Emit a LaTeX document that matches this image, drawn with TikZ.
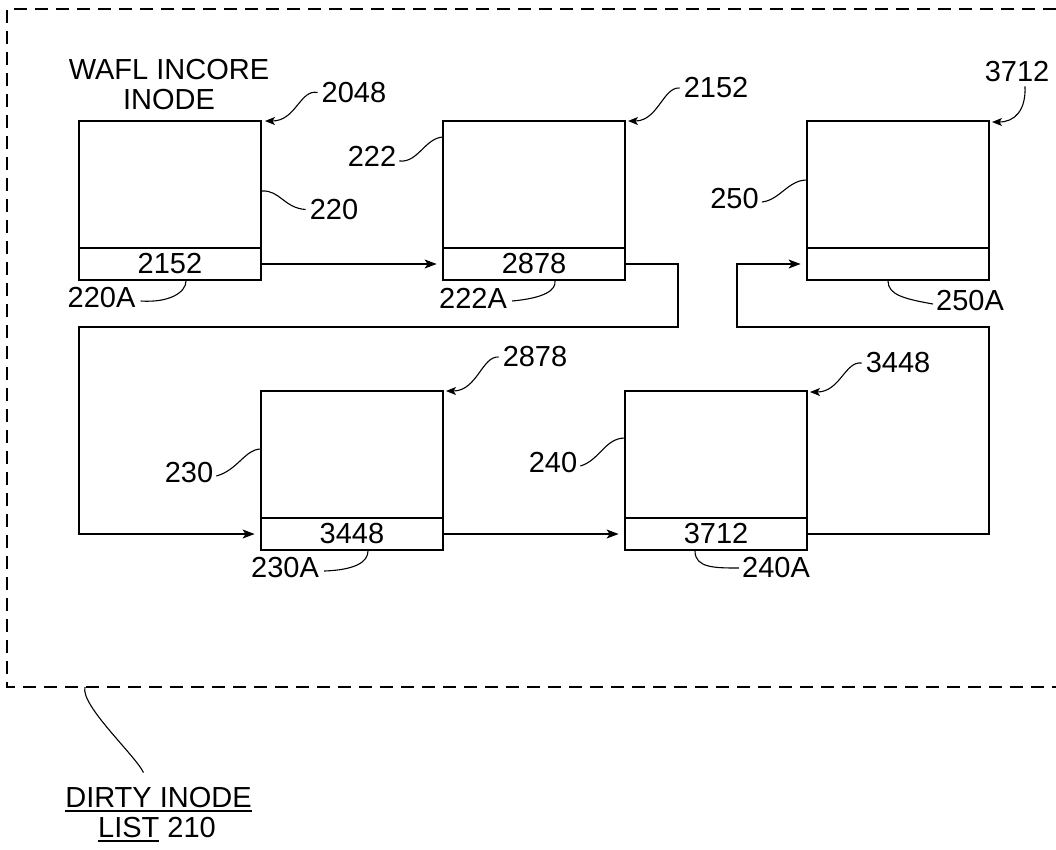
\documentclass[tikz,border=0pt]{standalone}
\usepackage{fontspec}
\setmainfont{Liberation Sans}
\usetikzlibrary{arrows.meta}
\newsavebox\ulbox
\newcommand\myul[1]{\sbox\ulbox{#1}\rlap{\rule[-5pt]{\wd\ulbox}{2pt}}\usebox\ulbox}
\begin{document}
\begin{tikzpicture}[x=1pt,y=-1pt,
  lbl/.style={font=\fontsize{29}{30}\selectfont, inner sep=0pt},
  upper/.style={draw, line width=2.8pt, minimum width=182pt, minimum height=127pt, inner sep=0pt},
  field/.style={draw, line width=2.8pt, minimum width=182pt, minimum height=32pt, inner sep=0pt, font=\fontsize{29}{30}\selectfont},
  conn/.style={line width=1.1pt, -{Stealth[length=12pt,width=9pt,inset=3pt]}, shorten >=5pt},
  ptr/.style={line width=1.1pt, -{Stealth[length=10pt,width=8pt,inset=2.5pt]}},
  lead/.style={line width=1.1pt},
  border/.style={line width=1.3pt, dash pattern=on 13pt off 8pt}]
\useasboundingbox (0,0) rectangle (1056,849);

% dashed list border
\coordinate (bt) at (1056,9);
\coordinate (btl) at (7,9);
\coordinate (bbl) at (7,687);
\coordinate (bb) at (1056,687);
\draw[border] (bt) -- (btl) -- (bbl) -- (bb);

% boxes
\node[upper] (u220) at (170,184.5) {};
\node[field] (f220) at (170,264) {2152};
\node[upper] (u222) at (534,184.5) {};
\node[field] (f222) at (534,264) {2878};
\node[upper] (u250) at (898,184.5) {};
\node[field] (f250) at (898,264) {};
\node[upper] (u230) at (352,454.5) {};
\node[field] (f230) at (352,534) {3448};
\node[upper] (u240) at (716,454.5) {};
\node[field] (f240) at (716,534) {3712};

% texts
\node[lbl, align=center] (wafl) at (169,85) {WAFL INCORE\\INODE};
\node[lbl] (l2048) at (354,92.5) {2048};
\node[lbl] (l220) at (334,209.5) {220};
\node[lbl] (l220A) at (101.5,298) {220A};
\node[lbl] (l222) at (372,156) {222};
\node[lbl] (l222A) at (473,298) {222A};
\node[lbl] (l2152) at (716,88) {2152};
\node[lbl] (l250) at (734.5,199) {250};
\node[lbl] (l250A) at (970,301) {250A};
\node[lbl] (l3712) at (1017,72) {3712};
\node[lbl] (l2878) at (535,357) {2878};
\node[lbl] (l230) at (189,473) {230};
\node[lbl] (l230A) at (285,568) {230A};
\node[lbl] (l240) at (553,463) {240};
\node[lbl] (l240A) at (776,568) {240A};
\node[lbl] (l3448) at (898,363) {3448};
\node[lbl, anchor=base] (dirty1) at (158.5,807) {\myul{DIRTY INODE}};
\node[lbl, anchor=base] (dirty2) at (157,837) {\myul{LIST} 210};

% list connectors
\coordinate (k1) at (678,327);
\coordinate (k2) at (79,327);
\coordinate (k3) at (989,327);
\coordinate (k4) at (737,327);
\draw[conn] (f220.east) -- (f222.west);
\draw[conn] (f222.east) -| (k1) -- (k2) |- (f230.west);
\draw[conn] (f230.east) -- (f240.west);
\draw[conn] (f240.east) -| (k3) -- (k4) |- (f250.west);

% address pointers
\coordinate (t2048) at (265,121);
\coordinate (t2152) at (628,121);
\coordinate (t3712) at (992,122);
\coordinate (t2878) at (446,391);
\coordinate (t3448) at (810,392);
\draw[ptr] ([xshift=-4pt]l2048.west) .. controls (300,89) and (296,121) .. (t2048);
\draw[ptr] ([xshift=-4pt]l2152.west) .. controls (663,87) and (658,121) .. (t2152);
\draw[ptr] ([xshift=-4pt]l2878.west) .. controls (482,356) and (477,391) .. (t2878);
\draw[ptr] ([xshift=-4pt]l3448.west) .. controls (845,361) and (840,392) .. (t3448);
\draw[ptr] ([xshift=8pt,yshift=-4pt]l3712.south) .. controls (1026,110) and (1015,122) .. (t3712);

% reference leaders
\coordinate (a220) at (262,191);
\coordinate (a220A) at (186,281);
\coordinate (a222) at (443,137);
\coordinate (a222A) at (555,281);
\coordinate (a250) at (807,180);
\coordinate (a250A) at (888,281);
\coordinate (a230) at (261,449);
\coordinate (a230A) at (368,551);
\coordinate (a240) at (625,438);
\coordinate (a240A) at (695,551);
\coordinate (a210) at (85,687);
\draw[lead] (a220) .. controls (280,190) and (284,208) .. ([xshift=-4pt]l220.west);
\draw[lead] ([xshift=5pt,yshift=-3pt]l220A.east) .. controls (170,303) and (186,292) .. (a220A);
\draw[lead] ([xshift=3pt,yshift=-5pt]l222.east) .. controls (418,163) and (425,138) .. (a222);
\draw[lead] ([xshift=5pt,yshift=-3pt]l222A.east) .. controls (545,298) and (556,290) .. (a222A);
\draw[lead] ([xshift=3pt,yshift=-3pt]l250.east) .. controls (780,200) and (788,180) .. (a250);
\draw[lead] (a250A) .. controls (888,295) and (905,299) .. ([xshift=-3pt,yshift=-3pt]l250A.west);
\draw[lead] ([xshift=3pt,yshift=-3pt]l230.east) .. controls (238,470) and (245,449) .. (a230);
\draw[lead] ([xshift=5pt,yshift=-3pt]l230A.east) .. controls (355,570) and (368,562) .. (a230A);
\draw[lead] ([xshift=3pt,yshift=-3pt]l240.east) .. controls (600,460) and (605,438) .. (a240);
\draw[lead] (a240A) .. controls (695,568) and (715,568) .. ([xshift=-3pt]l240A.west);
\draw[lead] (a210) .. controls (80,705) and (135,755) .. ([xshift=-15pt,yshift=14pt]dirty1.north);
\end{tikzpicture}
\end{document}
